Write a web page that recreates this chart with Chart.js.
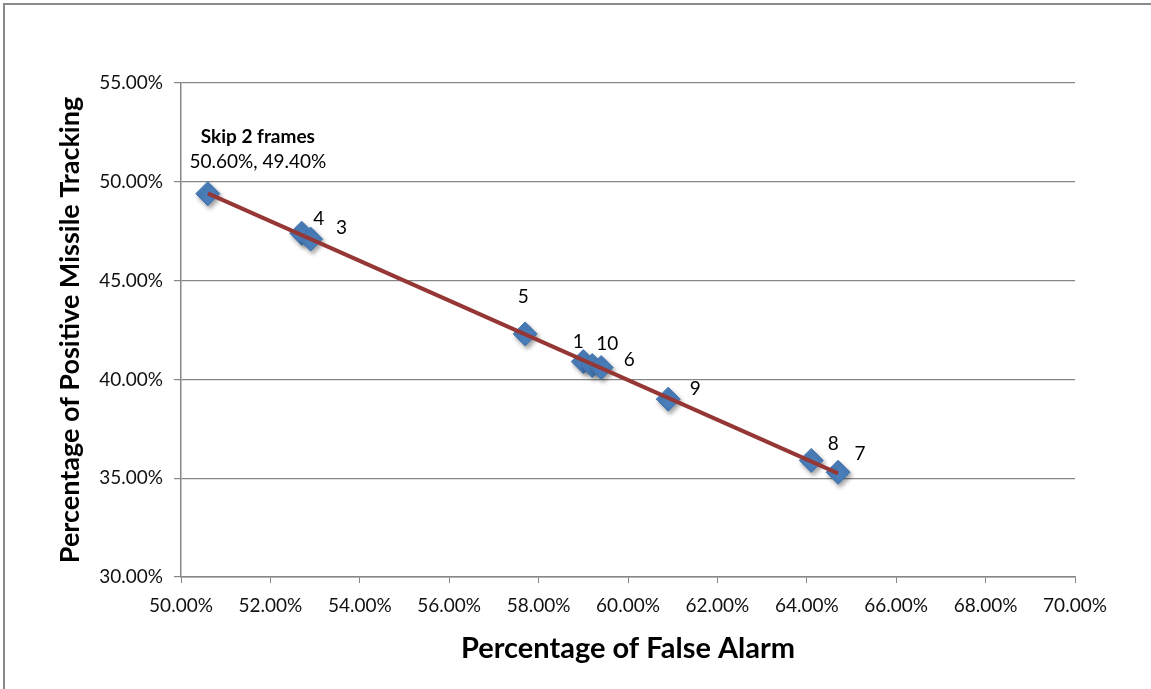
<!DOCTYPE html>
<html>
<head>
<meta charset="utf-8">
<title>False Alarm vs Positive Missile Tracking</title>
<script src="https://cdn.jsdelivr.net/npm/chart.js@4.4.1/dist/chart.umd.min.js"></script>
<style>
  html, body { margin: 0; padding: 0; background: #fff; }
  #wrap { width: 1151px; height: 689px; position: relative; }
</style>
</head>
<body>
<div id="wrap"><canvas id="chart"></canvas></div>
<script>
// values (percent)
const pointNames = ['Skip 2 frames', '4', '3', '5', '1', '10', '6', '9', '8', '7'];
const falseAlarm = [50.6, 52.7, 52.9, 57.7, 59.0, 59.2, 59.4, 60.9, 64.1, 64.7];
const tracking   = [49.4, 47.4, 47.1, 42.3, 40.9, 40.7, 40.6, 39.0, 35.9, 35.3];
const xTickValues = [50, 52, 54, 56, 58, 60, 62, 64, 66, 68, 70];
const yTickValues = [30, 35, 40, 45, 50, 55];

// where each label sits relative to its marker (px)
const labelOffsets = [[50, -32], [17, -14], [31, -11], [-2, -37], [-5, -20], [15, -22], [28, -8], [27, -10], [22, -17], [22, -18]];
const headOffset = [50, -57];

const pct = v => v.toFixed(2) + '%';

// least squares trendline over the points
function linearFit(xs, ys) {
  const n = xs.length;
  const mx = xs.reduce((a, b) => a + b, 0) / n;
  const my = ys.reduce((a, b) => a + b, 0) / n;
  let sxy = 0, sxx = 0;
  for (let i = 0; i < n; i++) {
    sxy += (xs[i] - mx) * (ys[i] - my);
    sxx += (xs[i] - mx) * (xs[i] - mx);
  }
  const slope = sxy / sxx;
  return x => my + slope * (x - mx);
}
const fit = linearFit(falseAlarm, tracking);
const xMin = Math.min(...falseAlarm), xMax = Math.max(...falseAlarm);

const points = falseAlarm.map((x, i) => ({ x: x, y: tracking[i] }));

const frame = {
  id: 'frame',
  beforeDraw(chart) {
    const ctx = chart.ctx;
    ctx.save();
    ctx.fillStyle = '#fff';
    ctx.fillRect(0, 0, chart.width, chart.height);
    ctx.strokeStyle = '#8a8a8a';
    ctx.lineWidth = 2;
    ctx.beginPath();
    ctx.moveTo(4, chart.height);
    ctx.lineTo(4, 4);
    ctx.lineTo(chart.width, 4);
    ctx.stroke();
    ctx.restore();
  }
};

const markerShadow = {
  id: 'markerShadow',
  beforeDatasetDraw(chart, args) {
    if (args.index !== 1) return;
    const ctx = chart.ctx;
    ctx.save();
    ctx.shadowColor = 'rgba(0,0,0,0.35)';
    ctx.shadowBlur = 4;
    ctx.shadowOffsetX = 2;
    ctx.shadowOffsetY = 3;
  },
  afterDatasetDraw(chart, args) {
    if (args.index !== 1) return;
    chart.ctx.restore();
  }
};

const pointLabels = {
  id: 'pointLabels',
  afterDatasetsDraw(chart) {
    const ctx = chart.ctx;
    const meta = chart.getDatasetMeta(1);
    ctx.save();
    ctx.fillStyle = '#000';
    ctx.textAlign = 'center';
    ctx.textBaseline = 'middle';
    meta.data.forEach((pt, i) => {
      const [dx, dy] = labelOffsets[i];
      if (i === 0) {
        ctx.font = 'bold 19px Lato';
        ctx.fillText(pointNames[i], pt.x + headOffset[0], pt.y + headOffset[1]);
        ctx.font = '19px Lato';
        ctx.fillText(pct(falseAlarm[i]) + ', ' + pct(tracking[i]), pt.x + dx, pt.y + dy);
      } else {
        ctx.font = '19px Lato';
        ctx.fillText(pointNames[i], pt.x + dx, pt.y + dy);
      }
    });
    ctx.restore();
  }
};

const ctx = document.getElementById('chart').getContext('2d');
const chart = new Chart(ctx, {
  type: 'scatter',
  data: {
    datasets: [{
      label: 'Trend',
      data: [{ x: xMin, y: fit(xMin) }, { x: xMax, y: fit(xMax) }],
      showLine: true,
      borderColor: '#953735',
      borderWidth: 4,
      pointRadius: 0,
      order: 0
    }, {
      label: 'Frames skipped',
      data: points,
      pointStyle: 'rectRot',
      pointRadius: 12,
      pointHoverRadius: 12,
      backgroundColor: '#4a7ebb',
      borderColor: '#3f72ad',
      borderWidth: 1,
      order: 1
    }]
  },
  options: {
    responsive: true,
    maintainAspectRatio: false,
    animation: false,
    layout: {
      padding: { left: 0, top: 83, right: 76, bottom: 0 }
    },
    plugins: {
      legend: { display: false },
      tooltip: { enabled: false }
    },
    scales: {
      x: {
        type: 'linear',
        min: 50,
        max: 70,
        afterFit: scale => { scale.height = 112; },
        afterBuildTicks: scale => { scale.ticks = xTickValues.map(v => ({ value: v })); },
        ticks: {
          color: '#111',
          padding: 11,
          maxRotation: 0,
          font: { family: 'Lato', size: 19 },
          callback: v => pct(v)
        },
        grid: {
          drawOnChartArea: false,
          drawTicks: true,
          tickLength: 6,
          color: '#868686'
        },
        border: { color: '#868686', width: 1.5 },
        title: {
          display: true,
          text: 'Percentage of False Alarm',
          color: '#000',
          padding: { top: 0, bottom: 23 },
          font: { family: 'Lato', size: 29, weight: 'bold', lineHeight: 1.2 }
        }
      },
      y: {
        type: 'linear',
        min: 30,
        max: 55,
        afterFit: scale => { scale.width = 181; },
        afterBuildTicks: scale => { scale.ticks = yTickValues.map(v => ({ value: v })); },
        ticks: {
          color: '#111',
          padding: 11,
          font: { family: 'Lato', size: 19 },
          callback: v => pct(v)
        },
        grid: {
          color: '#868686',
          lineWidth: 1.2,
          tickLength: 7
        },
        border: { color: '#868686', width: 1.5 },
        title: {
          display: true,
          text: 'Percentage of Positive Missile Tracking',
          color: '#000',
          padding: { top: 54, bottom: 0 },
          font: { family: 'Lato', size: 27, weight: 'bold', lineHeight: 1.2 }
        }
      }
    }
  },
  plugins: [frame, markerShadow, pointLabels]
});
</script>
</body>
</html>
